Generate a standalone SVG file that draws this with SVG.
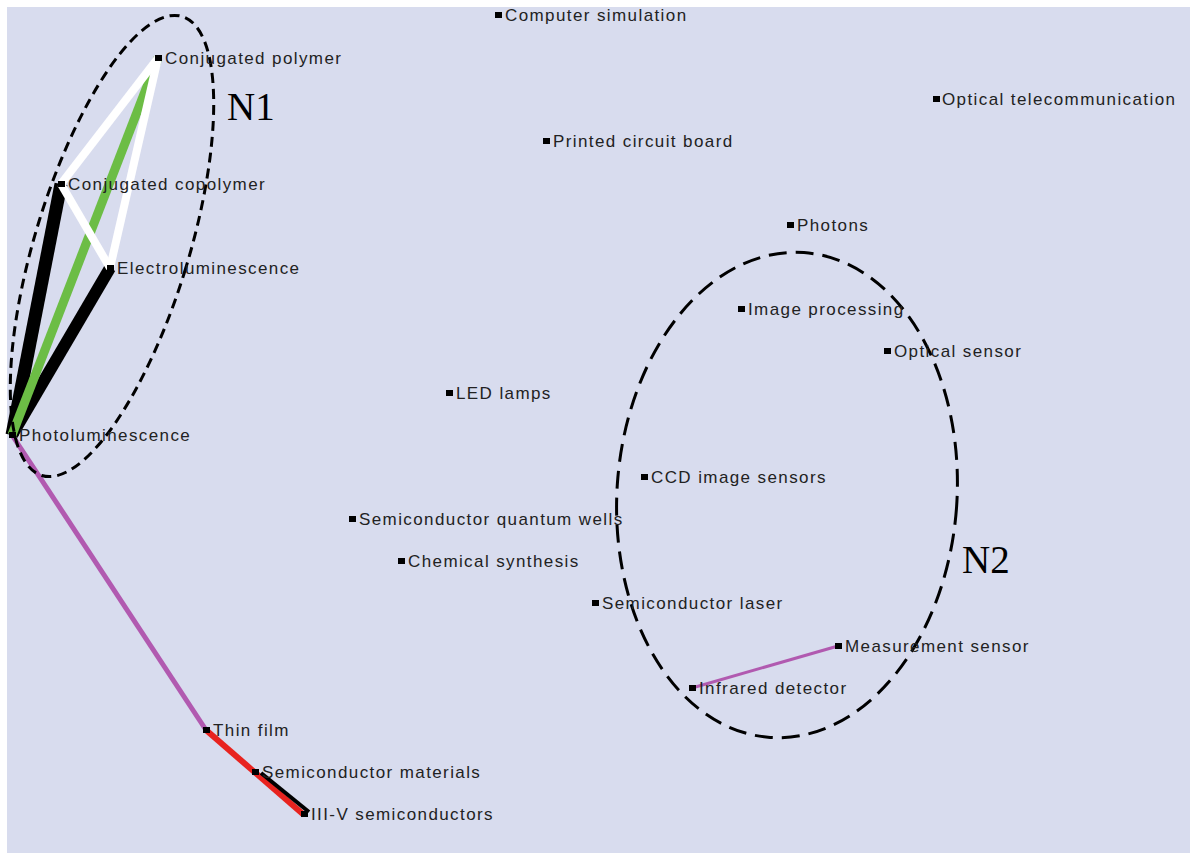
<svg xmlns="http://www.w3.org/2000/svg" width="1196" height="855" viewBox="0 0 1196 855">
<style>
.lbl{font-family:"Liberation Sans",Arial,sans-serif;font-size:17px;letter-spacing:1.4px;fill:#222}
.mk{fill:#000}
.big{font-family:"Liberation Serif","Times New Roman",serif;font-size:39px;fill:#000}
.cl{fill:none;stroke:#000;stroke-width:3}
</style>
<rect x="0" y="0" width="1196" height="855" fill="#fff"/>
<rect x="7" y="7" width="1183" height="846" fill="#d8dcee"/>
<g id="connectors" stroke-linecap="butt">
<line x1="61" y1="184" x2="12" y2="435" stroke="#000" stroke-width="13"/>
<line x1="110" y1="268" x2="12" y2="435" stroke="#000" stroke-width="12"/>
<line x1="158" y1="58" x2="12" y2="435" stroke="#6cbd45" stroke-width="9"/>
<line x1="158" y1="58" x2="61" y2="184" stroke="#fff" stroke-width="8"/>
<line x1="158" y1="58" x2="110" y2="268" stroke="#fff" stroke-width="8"/>
<line x1="61" y1="184" x2="110" y2="268" stroke="#fff" stroke-width="8"/>
<line x1="12" y1="435" x2="206" y2="730" stroke="#b15ab0" stroke-width="5"/>
<line x1="206" y1="730" x2="304" y2="815" stroke="#e8231f" stroke-width="6"/>
<line x1="261" y1="773" x2="309" y2="812" stroke="#000" stroke-width="4"/>
<line x1="692" y1="688" x2="838" y2="646" stroke="#b15ab0" stroke-width="3"/>
</g>
<g id="clusters">
<ellipse class="cl" cx="112" cy="246" rx="77" ry="240" transform="rotate(17 112 246)" stroke-dasharray="10 6"/>
<ellipse class="cl" cx="787" cy="495" rx="170" ry="243" transform="rotate(4 787 495)" stroke-dasharray="18 9"/>
<text class="big" x="227" y="120">N1</text>
<text class="big" x="962" y="573">N2</text>
</g>
<g id="n-computer-simulation"><rect class="mk" x="495" y="12" width="7" height="6"/><text class="lbl" x="505" y="21">Computer simulation</text></g>
<g id="n-conjugated-polymer"><rect class="mk" x="155" y="55" width="7" height="6"/><text class="lbl" x="165" y="64">Conjugated polymer</text></g>
<g id="n-optical-telecommunication"><rect class="mk" x="933" y="96" width="7" height="6"/><text class="lbl" x="942" y="105">Optical telecommunication</text></g>
<g id="n-printed-circuit-board"><rect class="mk" x="543" y="138" width="7" height="6"/><text class="lbl" x="553" y="147">Printed circuit board</text></g>
<g id="n-conjugated-copolymer"><rect class="mk" x="58" y="181" width="7" height="6"/><text class="lbl" x="68" y="190">Conjugated copolymer</text></g>
<g id="n-photons"><rect class="mk" x="787" y="222" width="7" height="6"/><text class="lbl" x="797" y="231">Photons</text></g>
<g id="n-electroluminescence"><rect class="mk" x="107" y="265" width="7" height="6"/><text class="lbl" x="117" y="274">Electroluminescence</text></g>
<g id="n-image-processing"><rect class="mk" x="738" y="306" width="7" height="6"/><text class="lbl" x="748" y="315">Image processing</text></g>
<g id="n-optical-sensor"><rect class="mk" x="884" y="348" width="7" height="6"/><text class="lbl" x="894" y="357">Optical sensor</text></g>
<g id="n-led-lamps"><rect class="mk" x="446" y="390" width="7" height="6"/><text class="lbl" x="456" y="399">LED lamps</text></g>
<g id="n-photoluminescence"><rect class="mk" x="9" y="432" width="7" height="6"/><text class="lbl" x="19" y="441">Photoluminescence</text></g>
<g id="n-ccd-image-sensors"><rect class="mk" x="641" y="474" width="7" height="6"/><text class="lbl" x="651" y="483">CCD image sensors</text></g>
<g id="n-semiconductor-quantum-wells"><rect class="mk" x="349" y="516" width="7" height="6"/><text class="lbl" x="359" y="525">Semiconductor quantum wells</text></g>
<g id="n-chemical-synthesis"><rect class="mk" x="398" y="558" width="7" height="6"/><text class="lbl" x="408" y="567">Chemical synthesis</text></g>
<g id="n-semiconductor-laser"><rect class="mk" x="592" y="600" width="7" height="6"/><text class="lbl" x="602" y="609">Semiconductor laser</text></g>
<g id="n-measurement-sensor"><rect class="mk" x="835" y="643" width="7" height="6"/><text class="lbl" x="845" y="652">Measurement sensor</text></g>
<g id="n-infrared-detector"><rect class="mk" x="689" y="685" width="7" height="6"/><text class="lbl" x="699" y="694">Infrared detector</text></g>
<g id="n-thin-film"><rect class="mk" x="203" y="727" width="7" height="6"/><text class="lbl" x="213" y="736">Thin film</text></g>
<g id="n-semiconductor-materials"><rect class="mk" x="252" y="769" width="7" height="6"/><text class="lbl" x="262" y="778">Semiconductor materials</text></g>
<g id="n-iii-v-semiconductors"><rect class="mk" x="301" y="811" width="7" height="6"/><text class="lbl" x="311" y="820">III-V semiconductors</text></g>
</svg>
